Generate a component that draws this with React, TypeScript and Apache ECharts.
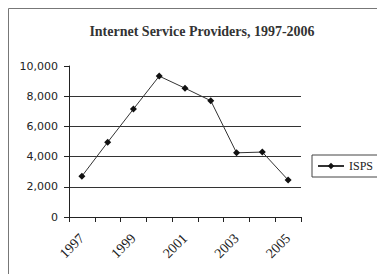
import React, { useEffect, useRef } from "react";
import * as echarts from "echarts";

const years = ["1997", "1998", "1999", "2000", "2001", "2002", "2003", "2004", "2005"];
const isps = [2700, 4950, 7150, 9330, 8530, 7700, 4250, 4300, 2450];
const yTicks = { min: 0, max: 10000, interval: 2000 };

export default function App() {
  const ref = useRef<HTMLDivElement>(null);
  useEffect(() => {
    const chart = echarts.init(ref.current!, null, { renderer: "svg" });
    chart.setOption({
      animation: false,
      backgroundColor: "#fff",
      title: {
        text: "Internet Service Providers, 1997-2006",
        left: 197,
        textAlign: "center",
        top: 19,
        textStyle: { fontFamily: "Liberation Serif", fontSize: 14, fontWeight: 600, color: "#333" },
      },
      graphic: [
        {
          type: "rect",
          shape: { x: 8.5, y: 8.5, width: 420, height: 320 },
          style: { fill: "none", stroke: "#777", lineWidth: 1 },
          silent: true,
        },
      ],
      grid: { left: 69, right: 76, top: 66, bottom: 57 },
      legend: {
        left: 312,
        top: 155,
        orient: "vertical",
        borderColor: "#444",
        borderWidth: 1,
        padding: [5, 20, 5, 5],
        itemWidth: 26,
        itemHeight: 8,
        itemGap: 4,
        textStyle: { fontFamily: "Liberation Serif", fontSize: 12, color: "#222" },
        data: ["ISPS"],
      },
      xAxis: {
        type: "category",
        data: years,
        boundaryGap: true,
        axisLine: { lineStyle: { color: "#222", width: 1 } },
        axisTick: { show: true, interval: 0, length: 5, lineStyle: { color: "#222" } },
        axisLabel: {
          interval: 1,
          rotate: 45,
          margin: 19,
          fontFamily: "Liberation Serif",
          fontSize: 14,
          color: "#222",
        },
        splitLine: { show: false },
      },
      yAxis: {
        type: "value",
        min: yTicks.min,
        max: yTicks.max,
        interval: yTicks.interval,
        axisLine: { show: true, lineStyle: { color: "#222", width: 1 } },
        axisTick: { show: true, length: 5, lineStyle: { color: "#222" } },
        axisLabel: {
          margin: 11,
          fontFamily: "DejaVu Sans",
          fontSize: 11,
          color: "#222",
          formatter: (v: number) => v.toLocaleString("en-US"),
        },
        splitLine: { show: true, showMaxLine: false, lineStyle: { color: "#333", width: 1 } },
      },
      series: [
        {
          name: "ISPS",
          type: "line",
          data: isps,
          symbol: "diamond",
          symbolSize: 7,
          itemStyle: { color: "#111" },
          lineStyle: { color: "#333", width: 1 },
        },
      ],
    });
    return () => chart.dispose();
  }, []);
  return (
    <div
      ref={ref}
      style={{ position: "fixed", left: 0, top: 0, width: 377, height: 274 }}
    />
  );
}
